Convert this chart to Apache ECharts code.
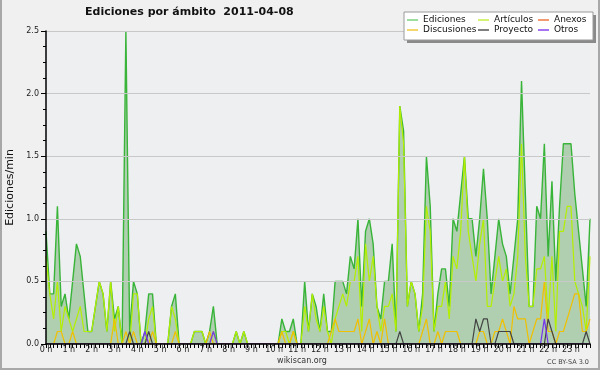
<!DOCTYPE html>
<html>
<head>
<meta charset="utf-8">
<script src="https://cdn.jsdelivr.net/npm/echarts@6/dist/echarts.min.js"></script>
<style>
html,body{margin:0;padding:0;background:#f0f0f0;}
#c{width:600px;height:370px;}
</style>
</head>
<body>
<div id="c"></div>
<script>
// ---- data (10-minute bins, edits per minute) ----
const hourLabels = ['0 h','1 h','2 h','3 h','4 h','5 h','6 h','7 h','8 h','9 h','10 h','11 h',
  '12 h','13 h','14 h','15 h','16 h','17 h','18 h','19 h','20 h','21 h','22 h','23 h'];
const yTicks = [0, 0.5, 1.0, 1.5, 2.0, 2.5];

const ediciones = [
  0.9,0.4,0.4,1.1,0.3,0.4, 0.2,0.5,0.8,0.7,0.4,0.1, 0.1,0.3,0.5,0.4,0.1,0.5, 0.2,0.3,0.0,2.5,0.1,0.5,
  0.4,0.0,0.1,0.4,0.4,0.0, 0,0,0,0.3,0.4,0, 0,0,0,0.1,0.1,0.1, 0,0.1,0.3,0,0,0,
  0,0,0.1,0,0.1,0, 0,0,0,0,0,0, 0,0,0.2,0.1,0.1,0.2, 0,0,0.5,0.1,0.4,0.3,
  0.1,0.4,0.1,0.1,0.5,0.5, 0.5,0.4,0.7,0.6,1.0,0.3, 0.9,1.0,0.8,0.3,0.2,0.5, 0.5,0.8,0.1,1.9,1.7,0.3,
  0.5,0.4,0.1,0.4,1.5,1.1, 0.1,0.4,0.6,0.6,0.3,1.0, 0.9,1.2,1.5,1.0,1.0,0.7, 1.0,1.4,1.0,0.4,0.7,1.0,
  0.8,0.7,0.4,0.7,1.0,2.1, 1.2,0.3,0.3,1.1,1.0,1.6, 0.7,1.3,0.5,1.1,1.6,1.6, 1.6,1.2,0.9,0.6,0.3,1.0
];
const articulos = [
  0.7,0.4,0.2,0.5,0.1,0.3, 0.2,0.1,0.2,0.3,0.1,0.1, 0.1,0.3,0.5,0.4,0.1,0.5, 0.1,0.3,0,0,0,0.4,
  0.4,0,0,0.2,0.3,0, 0,0,0,0.3,0.2,0, 0,0,0,0.1,0.1,0.1, 0,0,0.1,0,0,0,
  0,0,0.1,0,0.1,0, 0,0,0,0,0,0, 0,0,0.1,0.1,0,0.1, 0,0,0.3,0.1,0.4,0.2,
  0.1,0.3,0.1,0,0.2,0.3, 0.4,0.3,0.5,0.5,0.7,0.1, 0.8,0.5,0.7,0.3,0.1,0.3, 0.3,0.4,0.1,1.9,1.6,0.3,
  0.5,0.4,0.1,0.3,1.1,0.9, 0.1,0.3,0.3,0.5,0.2,0.7, 0.6,0.9,1.5,0.9,0.7,0.5, 0.8,1.0,0.3,0.3,0.5,0.7,
  0.5,0.6,0.3,0.4,0.7,1.6, 0.7,0.3,0.3,0.6,0.6,0.7, 0.2,0.7,0.1,0.9,0.9,1.1, 1.1,0.5,0.4,0.3,0.1,0.7
];
const discusiones = [
  0,0,0,0.1,0.1,0, 0,0.1,0,0,0,0, 0,0,0,0,0,0, 0.2,0,0,0.1,0,0.1,
  0,0,0,0,0.1,0, 0,0,0,0,0.1,0, 0,0,0,0,0,0, 0,0.1,0,0,0,0,
  0,0,0,0,0,0, 0,0,0,0,0,0, 0,0,0.1,0,0,0.1, 0,0,0,0,0,0,
  0,0,0,0.1,0.2,0.1, 0.1,0.1,0.1,0.1,0.2,0, 0.1,0.2,0,0.1,0,0.2, 0,0,0,0,0,0,
  0,0,0,0.1,0.2,0, 0,0.1,0,0.1,0.1,0.1, 0.1,0,0,0,0,0, 0.1,0.1,0,0,0.1,0.1,
  0.2,0.1,0,0.3,0.2,0.2, 0.2,0,0.1,0.2,0.2,0.5, 0.1,0.1,0,0.1,0.1,0.2, 0.3,0.4,0.4,0.1,0.1,0.2
];
const anexos = [
  0,0,0,0,0,0, 0,0,0,0,0,0, 0,0,0,0,0,0, 0,0,0,0,0,0,
  0,0,0,0,0,0, 0,0,0,0,0,0, 0,0,0,0,0,0, 0,0,0,0,0,0,
  0,0,0,0,0,0, 0,0,0,0,0,0, 0,0,0,0,0,0, 0,0,0,0,0,0,
  0,0,0,0,0,0, 0,0,0,0,0,0, 0,0,0,0,0,0, 0,0,0,0,0,0,
  0,0,0,0,0,0, 0,0,0,0,0,0, 0,0,0,0,0,0, 0,0,0,0,0,0,
  0,0,0,0,0,0, 0,0,0,0,0,0, 0,0,0,0,0,0, 0,0,0,0,0,0
];
const proyecto = [
  0,0,0,0,0,0, 0,0,0,0,0,0, 0,0,0,0,0,0, 0,0,0,0,0.1,0,
  0,0,0,0.1,0,0, 0,0,0,0,0,0, 0,0,0,0,0,0, 0,0,0,0,0,0,
  0,0,0,0,0,0, 0,0,0,0,0,0, 0,0,0,0,0,0, 0,0,0,0,0,0,
  0,0,0,0,0,0, 0,0,0,0,0,0, 0,0,0,0,0,0, 0,0,0,0.1,0,0,
  0,0,0,0,0,0, 0,0,0,0,0,0, 0,0,0,0,0,0.2, 0.1,0.2,0.2,0,0,0.1,
  0.1,0.1,0.1,0,0,0, 0,0,0,0,0,0, 0.2,0.1,0,0,0,0, 0,0,0,0,0.1,0
];
const otros = [
  0,0,0,0,0,0, 0,0,0,0,0,0, 0,0,0,0,0,0, 0,0,0,0,0,0,
  0,0,0.1,0,0,0, 0,0,0,0,0,0, 0,0,0,0,0,0, 0,0,0.1,0,0,0,
  0,0,0,0,0,0, 0,0,0,0,0,0, 0,0,0,0,0,0, 0,0,0,0,0,0,
  0,0,0,0,0,0, 0,0,0,0,0,0, 0,0,0,0,0,0, 0,0,0,0,0,0,
  0,0,0,0,0,0, 0,0,0,0,0,0, 0,0,0,0,0,0, 0,0,0,0,0,0,
  0,0,0,0,0,0, 0,0,0,0,0,0.2, 0,0,0,0,0,0, 0,0,0,0,0,0
];

const categories = [];
for (let i = 0; i < ediciones.length; i++) categories.push(i);

const FONT = 'DejaVu Sans';
const chart = echarts.init(document.getElementById('c'), null, {renderer: 'canvas'});

function lineSeries(name, data, color, width, z) {
  return {
    name: name, type: 'line', data: data, symbol: 'none', smooth: false,
    lineStyle: {color: color, width: width}, itemStyle: {color: color},
    z: z, animation: false
  };
}

const legendCommon = {
  orient: 'vertical', top: 15, itemGap: 0, itemWidth: 11, itemHeight: 1.5, icon: 'rect',
  padding: 0, selectedMode: false, z: 60,
  textStyle: {fontFamily: FONT, fontSize: 9, color: '#111', lineHeight: 10, padding: [0,0,0,0]}
};

chart.setOption({
  backgroundColor: '#f0f0f0',
  animation: false,
  title: {
    text: 'Ediciones por ámbito  2011-04-08',
    left: 85, top: 7, padding: 0,
    textStyle: {fontFamily: FONT, fontSize: 11, fontWeight: 'bold', color: '#111'}
  },
  grid: {left: 46, right: 10, top: 31, bottom: 26, show: true, backgroundColor: '#eeeff1',
    borderWidth: 0, containLabel: false, outerBoundsMode: 'none'},
  legend: [
    Object.assign({}, legendCommon, {left: 407, data: [
      {name: 'Ediciones', itemStyle: {color: '#7cd27c'}},
      {name: 'Discusiones', itemStyle: {color: '#f0c83c'}}]}),
    Object.assign({}, legendCommon, {left: 478, data: [
      {name: 'Artículos', itemStyle: {color: '#c8ee44'}},
      {name: 'Proyecto', itemStyle: {color: '#555555'}}]}),
    Object.assign({}, legendCommon, {left: 538, data: [
      {name: 'Anexos', itemStyle: {color: '#ee7a44'}},
      {name: 'Otros', itemStyle: {color: '#8844ee'}}]})
  ],
  xAxis: {
    type: 'category', data: categories, boundaryGap: false, z: 10,
    axisLine: {show: true, lineStyle: {color: '#000', width: 1.5}},
    axisTick: {show: true, interval: 0, length: 4, lineStyle: {color: '#000', width: 1}},
    axisLabel: {
      interval: function (idx) { return idx % 6 === 0; },
      formatter: function (v, idx) { return hourLabels[idx / 6]; },
      fontFamily: FONT, fontSize: 8, color: '#222', margin: 2, hideOverlap: false
    },
    splitLine: {show: false}
  },
  yAxis: {
    type: 'value', min: yTicks[0], max: yTicks[yTicks.length - 1], interval: 0.5, z: 10,
    name: 'Ediciones/min', nameLocation: 'middle', nameGap: 30, nameRotate: 90,
    nameTextStyle: {fontFamily: FONT, fontSize: 11, color: '#111'},
    axisLine: {show: true, lineStyle: {color: '#000', width: 1.5}},
    axisTick: {show: true, length: 5, lineStyle: {color: '#000'}},
    minorTick: {show: true, splitNumber: 4, length: 3, lineStyle: {color: '#000'}},
    axisLabel: {
      formatter: function (v) { return v.toFixed(1); },
      fontFamily: FONT, fontSize: 8, color: '#222', margin: 7
    },
    splitLine: {show: true, lineStyle: {color: '#c8c8c8', width: 1}}
  },
  series: [
    Object.assign(lineSeries('Ediciones', ediciones, '#38b438', 1.4, 2), {
      areaStyle: {color: 'rgba(80,160,80,0.4)', opacity: 1}
    }),
    lineSeries('Artículos', articulos, '#b4ee00', 1.2, 3),
    lineSeries('Discusiones', discusiones, '#f0c000', 1.2, 4),
    lineSeries('Anexos', anexos, '#ee7a44', 1.2, 5),
    lineSeries('Proyecto', proyecto, '#444444', 1.2, 6),
    lineSeries('Otros', otros, '#7733ee', 1.2, 7)
  ],
  graphic: [
    {type: 'rect', shape: {x: 407, y: 15, width: 189, height: 28}, style: {fill: '#8a8a8a'}, z: 50, silent: true},
    {type: 'rect', shape: {x: 404, y: 12, width: 189, height: 28}, style: {fill: '#ffffff', stroke: '#9a9a9a', lineWidth: 1}, z: 51, silent: true},
    {type: 'text', x: 302, y: 361, style: {text: 'wikiscan.org', font: '8px "DejaVu Sans"', fill: '#333', textAlign: 'center', textVerticalAlign: 'middle'}},
    {type: 'text', x: 589, y: 362, style: {text: 'CC BY-SA 3.0', font: '6.5px "DejaVu Sans"', fill: '#444', textAlign: 'right', textVerticalAlign: 'middle'}},
    {type: 'polyline', shape: {points: [[1, 0], [1, 369], [599, 369], [599, 0]]}, style: {stroke: '#a8a8a8', lineWidth: 2, fill: null}, silent: true}
  ]
});
</script>
</body>
</html>
